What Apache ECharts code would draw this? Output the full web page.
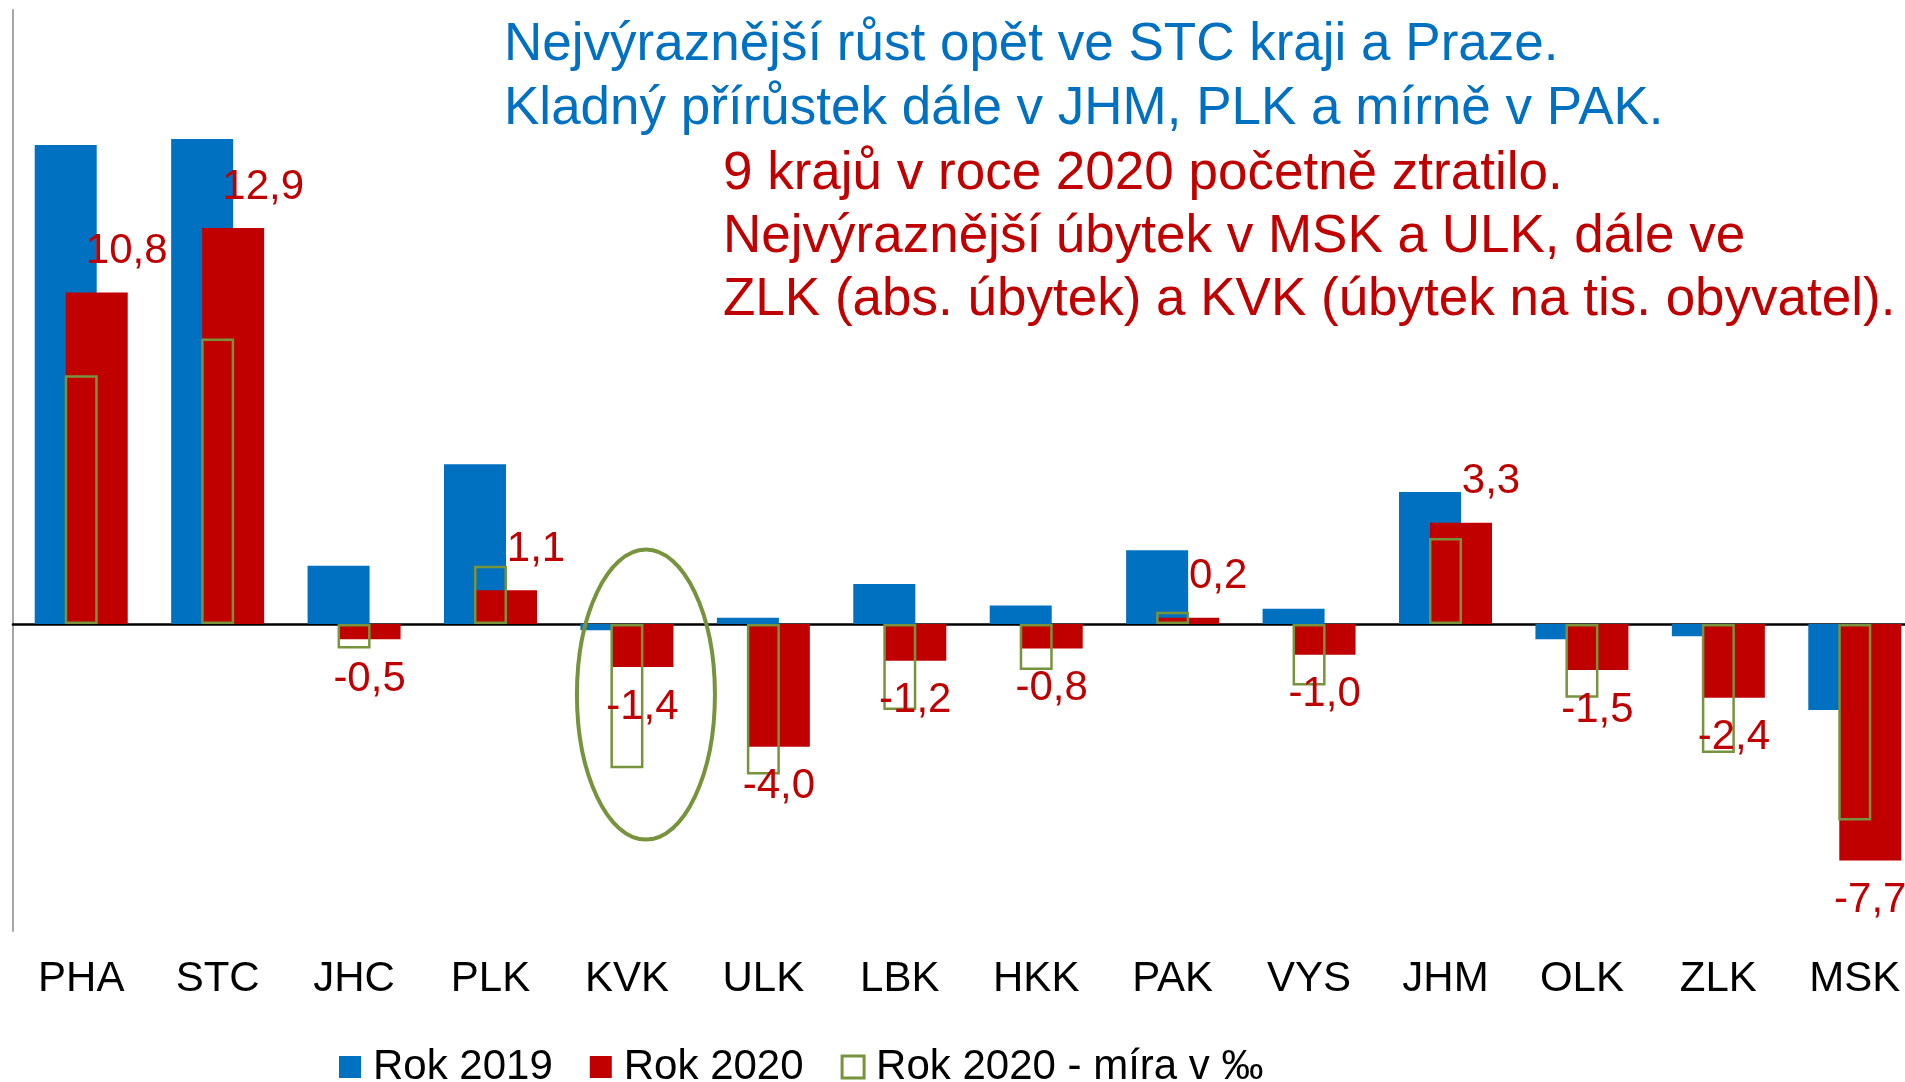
<!DOCTYPE html>
<html>
<head>
<meta charset="utf-8">
<script src="https://cdn.jsdelivr.net/npm/echarts@6/dist/echarts.min.js"></script>
<style>
  html, body { margin: 0; padding: 0; background: #fff; }
  #chart { width: 1905px; height: 1082px; }
</style>
</head>
<body>
<div id="chart"></div>
<script>
var kraje = ["PHA", "STC", "JHC", "PLK", "KVK", "ULK", "LBK", "HKK", "PAK", "VYS", "JHM", "OLK", "ZLK", "MSK"];
// přírůstek v tis. osob
var rok2019 = [15.6, 15.8, 1.9, 5.2, -0.2, 0.2, 1.3, 0.6, 2.4, 0.5, 4.3, -0.5, -0.4, -2.8];
var rok2020 = [10.8, 12.9, -0.5, 1.1, -1.4, -4.0, -1.2, -0.8, 0.2, -1.0, 3.3, -1.5, -2.4, -7.7];
// míra v promile
var mira2020 = [8.1, 9.3, -0.8, 1.9, -4.7, -4.9, -2.8, -1.5, 0.4, -2.0, 2.8, -2.4, -4.2, -6.4];

var textModry = [
    "Nejvýraznější růst opět ve STC kraji a Praze.",
    "Kladný přírůstek dále v JHM, PLK a mírně v PAK."
];
var textCerveny = [
    "9 krajů v roce 2020 početně ztratilo.",
    "Nejvýraznější úbytek v MSK a ULK, dále ve",
    "ZLK (abs. úbytek) a KVK (úbytek na tis. obyvatel)."
];

var FONT = "'Liberation Sans', Arial, sans-serif";
var MODRA = "#0070C0", CERVENA = "#C00000", ZELENA = "#77933C";

var myChart = echarts.init(document.getElementById("chart"));

function cislo(v) {
    return v.toFixed(1).replace(".", ",");
}

var data2020 = rok2020.map(function(v) {
    return {
        value: v,
        label: v >= 0
            ? { position: "top", distance: 20, offset: [30, 0] }
            : { position: "bottom", distance: 19 }
    };
});

var texty = [];
textModry.forEach(function(t, i) {
    texty.push({
        type: "text", left: 504, top: 19 + i * 64,
        style: { text: t, fill: MODRA, font: "53px " + FONT }
    });
});
textCerveny.forEach(function(t, i) {
    texty.push({
        type: "text", left: 723, top: 148 + i * 63,
        style: { text: t, fill: CERVENA, font: "53px " + FONT }
    });
});

var option = {
    animation: false,
    textStyle: { fontFamily: FONT },
    grid: {
        left: 13, top: 10, width: 1910, height: 921,
        containLabel: false, outerBoundsMode: "none"
    },
    legend: {
        left: 339, top: 1046, padding: 0,
        itemWidth: 22, itemHeight: 22, itemGap: 37,
        icon: "rect",
        textStyle: { fontSize: 42, color: "#000", fontFamily: FONT, padding: [0, 0, 0, 7] },
        data: [
            { name: "Rok 2019" },
            { name: "Rok 2020" },
            { name: "Rok 2020 - míra v ‰", itemStyle: { color: "#fff", borderColor: ZELENA, borderWidth: 3 } }
        ]
    },
    xAxis: [{
        type: "category",
        data: kraje,
        axisLine: { onZero: true, lineStyle: { color: "#000", width: 2.5 } },
        axisTick: { length: 12, lineStyle: { color: "#000", width: 2 } },
        axisLabel: { show: false }
    }, {
        type: "category",
        data: kraje,
        position: "bottom",
        axisLine: { show: false, onZero: false },
        axisTick: { show: false },
        axisLabel: { fontSize: 42, color: "#000", margin: 27, fontFamily: FONT }
    }],
    yAxis: {
        type: "value",
        min: -10, max: 20, interval: 10,
        axisLine: { show: true, onZero: false, lineStyle: { color: "#A6A6A6", width: 2 } },
        axisTick: { show: false },
        axisLabel: { show: false },
        splitLine: { show: false }
    },
    series: [{
        name: "Rok 2019",
        type: "bar",
        barWidth: 62,
        barGap: "-50%",
        itemStyle: { color: MODRA },
        data: rok2019
    }, {
        name: "Rok 2020",
        type: "bar",
        barWidth: 62,
        barGap: "-50%",
        itemStyle: { color: CERVENA },
        label: {
            show: true, color: CERVENA, fontSize: 42, fontFamily: FONT,
            formatter: function(p) { return cislo(p.value); }
        },
        data: data2020
    }, {
        name: "Rok 2020 - míra v ‰",
        type: "bar",
        xAxisIndex: 1,
        barWidth: 33,
        itemStyle: { color: "rgba(0,0,0,0)", borderColor: ZELENA, borderWidth: 2.5 },
        data: mira2020
    }],
    graphic: texty
};

myChart.setOption(option);

// zvýraznění KVK elipsou
var stred = myChart.convertToPixel({ xAxisIndex: 0, yAxisIndex: 0 }, ["KVK", -2.3]);
myChart.setOption({
    graphic: texty.concat([{
        type: "ellipse",
        shape: { cx: stred[0] + 19, cy: stred[1], rx: 69, ry: 145 },
        style: { fill: "none", stroke: ZELENA, lineWidth: 4 },
        z: 10
    }])
});
</script>
</body>
</html>
